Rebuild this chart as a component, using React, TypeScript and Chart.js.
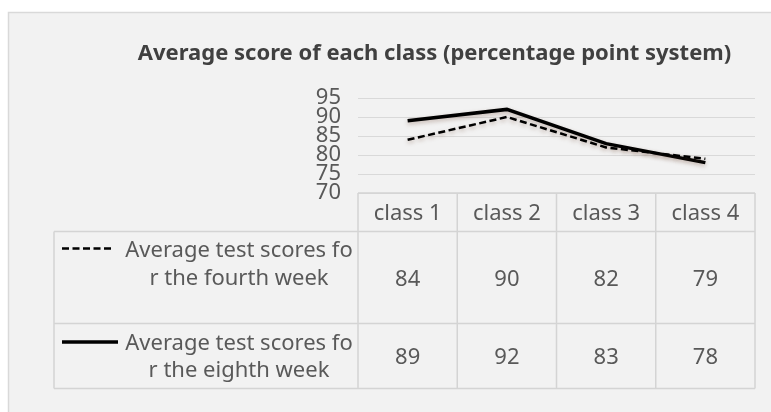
import React, { useEffect, useRef } from "react";
import { Chart, registerables } from "chart.js";

Chart.register(...registerables);

const categories = ["class 1", "class 2", "class 3", "class 4"];
const week4Scores = [84, 90, 82, 79];
const week8Scores = [89, 92, 83, 78];
const seriesLabels = [
  ["Average test scores fo", "r the fourth week"],
  ["Average test scores fo", "r the eighth week"],
];
const yMin = 70;
const yMax = 95;
const yStep = 5;
const titleText = "Average score of each class (percentage point system)";

const FONT = "'Noto Sans', sans-serif";
const TEXT = "#595959";
const GRID = "#d9d9d9";

const framePlugin = {
  id: "frame",
  beforeDraw(chart: any) {
    const ctx = chart.ctx;
    ctx.save();
    ctx.fillStyle = "#ffffff";
    ctx.fillRect(0, 0, chart.width, chart.height);
    ctx.fillStyle = "#f2f2f2";
    ctx.fillRect(8, 12, chart.width, chart.height);
    ctx.strokeStyle = "#d9d9d9";
    ctx.lineWidth = 1.5;
    ctx.strokeRect(8.5, 12.5, chart.width + 20, chart.height + 20);
    ctx.restore();
  },
};

const shadowPlugin = {
  id: "lineShadow",
  beforeDatasetDraw(chart: any) {
    const ctx = chart.ctx;
    ctx.save();
    ctx.shadowColor = "rgba(110,70,50,0.35)";
    ctx.shadowBlur = 4;
    ctx.shadowOffsetY = 2;
  },
  afterDatasetDraw(chart: any) {
    chart.ctx.restore();
  },
};

const tablePlugin = {
  id: "dataTable",
  afterDraw(chart: any) {
    const ctx = chart.ctx;
    const area = chart.chartArea;
    const xs = chart.scales.x;
    const n = categories.length;
    const edges: number[] = [area.left];
    for (let i = 1; i < n; i++) {
      edges.push((xs.getPixelForValue(i - 1) + xs.getPixelForValue(i)) / 2);
    }
    edges.push(area.right);
    const leftX = 54;
    const top = area.bottom;
    const headerBottom = top + 38.5;
    const rowBottoms = [headerBottom + 92, headerBottom + 92 + 65];
    const rowTops = [headerBottom, rowBottoms[0]];
    const textShift = 2;

    ctx.save();
    // title
    ctx.fillStyle = "#404040";
    ctx.font = `bold 22px ${FONT}`;
    ctx.textAlign = "center";
    ctx.textBaseline = "middle";
    ctx.fillText(titleText, 434.5, 54);

    // table lines
    ctx.strokeStyle = "#d4d4d4";
    ctx.lineWidth = 1.5;
    ctx.beginPath();
    ctx.moveTo(area.left, top);
    ctx.lineTo(area.right, top);
    [headerBottom, ...rowBottoms].forEach((y) => {
      ctx.moveTo(leftX, y);
      ctx.lineTo(area.right, y);
    });
    edges.forEach((x) => {
      ctx.moveTo(x, top);
      ctx.lineTo(x, rowBottoms[1]);
    });
    ctx.moveTo(leftX, headerBottom);
    ctx.lineTo(leftX, rowBottoms[1]);
    ctx.stroke();

    // header
    ctx.fillStyle = TEXT;
    ctx.font = `22px ${FONT}`;
    ctx.textAlign = "center";
    ctx.textBaseline = "middle";
    categories.forEach((c, i) => {
      ctx.fillText(c, xs.getPixelForValue(i), (top + headerBottom) / 2 + 1);
    });

    // rows
    const labelOffsets = [
      [17, 45],
      [18.5, 45],
    ];
    const sampleEnds = [111, 118];
    chart.data.datasets.forEach((ds: any, r: number) => {
      const rt = rowTops[r];
      const rb = rowBottoms[r];
      ctx.fillStyle = TEXT;
      ctx.font = `22px ${FONT}`;
      ds.data.forEach((v: number, i: number) => {
        ctx.fillText(String(v), xs.getPixelForValue(i), (rt + rb) / 2 + textShift);
      });
      const lines = seriesLabels[r];
      lines.forEach((t, k) => {
        ctx.fillText(t, 239, rt + labelOffsets[r][k] + textShift);
      });
      // legend sample
      ctx.save();
      ctx.strokeStyle = ds.borderColor;
      ctx.lineWidth = ds.borderWidth;
      ctx.setLineDash(ds.borderDash || []);
      ctx.beginPath();
      ctx.moveTo(62, rt + labelOffsets[r][0]);
      ctx.lineTo(sampleEnds[r], rt + labelOffsets[r][0]);
      ctx.stroke();
      ctx.restore();
    });
    ctx.restore();
  },
};

export default function App() {
  const ref = useRef<HTMLCanvasElement>(null);
  useEffect(() => {
    if (!ref.current) return;
    const chart = new Chart(ref.current, {
      type: "line",
      data: {
        labels: categories,
        datasets: [
          {
            label: seriesLabels[0].join(""),
            data: week4Scores,
            borderColor: "#000000",
            borderWidth: 2.5,
            borderDash: [7, 3.5],
            pointRadius: 0,
            tension: 0,
            fill: false,
          },
          {
            label: seriesLabels[1].join(""),
            data: week8Scores,
            borderColor: "#000000",
            borderWidth: 3.5,
            pointRadius: 0,
            tension: 0,
            fill: false,
          },
        ],
      },
      options: {
        responsive: false,
        animation: false,
        events: [],
        layout: { padding: { top: 98, bottom: 219, left: 0, right: 16 } },
        plugins: {
          legend: { display: false },
          title: { display: false },
          tooltip: { enabled: false },
        },
        scales: {
          x: {
            type: "category",
            offset: true,
            display: false,
          },
          y: {
            min: yMin,
            max: yMax,
            afterFit(scale: any) {
              scale.width = 358;
            },
            border: { display: false },
            grid: { color: GRID, lineWidth: 1, drawTicks: false },
            ticks: {
              stepSize: yStep,
              autoSkip: false,
              padding: 17,
              color: TEXT,
              font: { family: FONT, size: 22, lineHeight: 1 },
            },
          },
        },
      },
      plugins: [framePlugin, shadowPlugin, tablePlugin],
    });
    return () => chart.destroy();
  }, []);
  return (
    <div style={{ position: "absolute", left: 0, top: 0, width: 771, height: 412 }}>
      <canvas ref={ref} width={771} height={412} />
    </div>
  );
}
